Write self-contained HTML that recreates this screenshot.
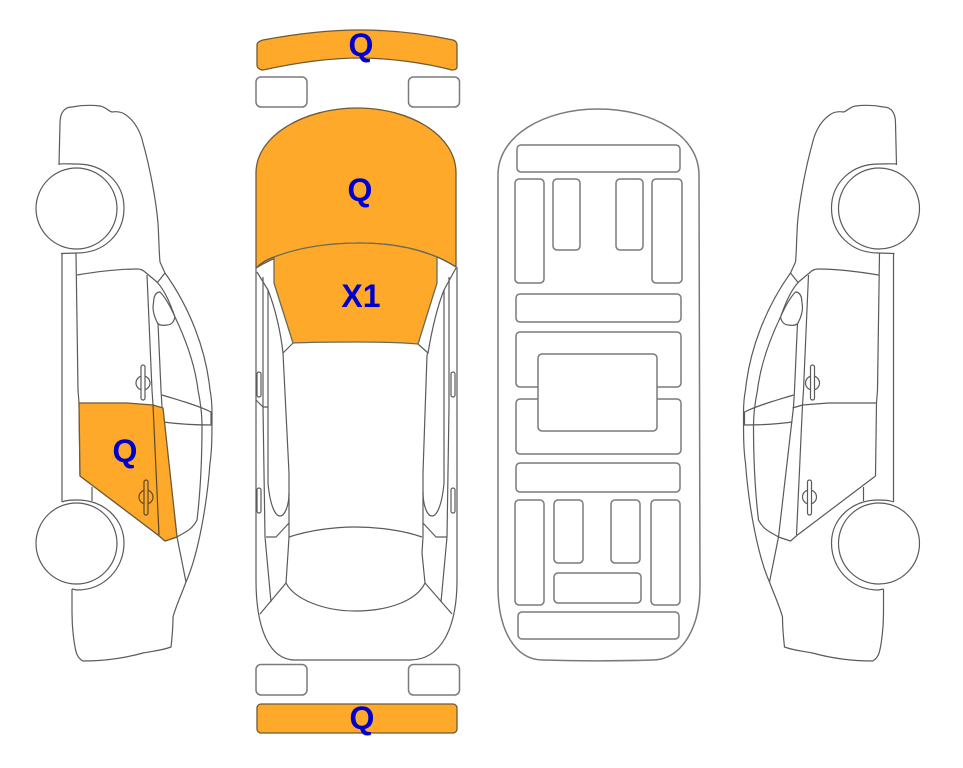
<!DOCTYPE html>
<html>
<head>
<meta charset="utf-8">
<style>
html,body{margin:0;padding:0;background:#fff;width:963px;height:768px;overflow:hidden}
svg{display:block}
text{font-family:"Liberation Sans",sans-serif;font-weight:bold;font-size:32px;fill:#0000cd;text-anchor:middle}
.l{fill:none;stroke:#5a5a5a;stroke-width:1.2;stroke-linejoin:round}
.g{fill:#fff;stroke:#7a7a7a;stroke-width:1.5}
.o{fill:#ffa92b;stroke:#6e5a35;stroke-width:1.3;stroke-linejoin:round}
</style>
</head>
<body>
<svg width="963" height="768" viewBox="0 0 963 768" xmlns="http://www.w3.org/2000/svg">
<defs>
<g id="side">
  <path class="l" d="M59 165 L60 123 C60 112 65 107 72 107 C82 105 92 105 100 106 C106 107 108 111 112 112 C118 111 122 112 126 115 C136 122 141 134 143 143 C150 168 156 200 158 223 C159 240 159 252 160 262 L165 273 C190 308 206 350 210 390 C212 400 212 408 212 413 C212 435 212 450 210 463 C207 505 198 555 186 582 C180 598 176 606 173 617 C173 628 172 638 171 647 C160 651 152 651 143 653 C125 658 105 661 83 661 C77 658 76 652 75 647 C72 630 72 620 72 613 L72 589"/>
  <path class="l" d="M59 164 C62 163.500 70 164 77 164 C104 164 124 183 124 208 C124 234 104 253 77 253 L61 253.500"/>
  <path class="l" d="M62 253 V502"/>
  <path class="l" d="M76 253 L78 390 L79 403 L80 476"/>
  <path class="l" d="M77 275 C95 272 120 269 137 269 C141 269 143 270 145 272 L157 282 C166 292 171 306 175 317 C186 340 195 365 198 390 C201 405 202 415 202 425 C202 460 200 495 197 520 C192 530 185 532 177 537 L165 541 L158 535 L80 476"/>
  <path class="l" d="M147 275 L152 390 L153 405 L159 535"/>
  <path class="l" d="M158 323 L161 390 L162 407 L177 537 L186 582"/>
  <path class="l" d="M165 273 L157 283"/>
  <path class="l" fill="#fff" style="fill:#fff" d="M154 298 C155 294 157 292 160 292 C166 298 171 308 175 317 C174 322 171 325 167 325 C162 326 158 325 157 322 C154 316 153 312 153 307 Z"/>
  <path class="l" d="M162 395 C178 400 197 405 211 412 L211 425 C195 425 178 424 163 422"/>
  <path class="l" d="M92 487 V501"/>
  <path class="l" d="M62 502 C66 500 72 500 77 500 C104 500 124 519 124 543 C124 569 104 590 77 590 L72 589"/>
  <circle class="l" style="fill:#fff" cx="76.500" cy="208.500" r="40.500"/>
  <circle class="l" style="fill:#fff" cx="76.500" cy="543.500" r="40.500"/>
  <circle class="l" cx="143" cy="383" r="7"/>
  <rect class="l" style="fill:#fff" x="141" y="365" width="4" height="35" rx="2"/>
</g>
</defs>

<!-- left side -->
<use href="#side"/>
<path class="o" d="M79 403 L127 403 L153 405 L163 408 L177 537 L165 541 L158 535 L80 476 Z"/>
<path class="l" style="stroke:#5a4a2a" d="M153 405 L159 535"/>
<circle cx="146" cy="497" r="7" style="fill:none;stroke:#5a4a2a;stroke-width:1.200"/>
<rect x="144" y="480" width="4" height="35" rx="2" style="fill:#ffa92b;stroke:#5a4a2a;stroke-width:1.200"/>

<!-- right side -->
<g transform="translate(955.500 0) scale(-1 1)">
  <use href="#side"/>
  <path class="l" d="M79 403 L127 403 L153 405 L163 408"/>
  <circle class="l" cx="146" cy="497" r="7"/>
  <rect class="l" style="fill:#fff" x="144" y="480" width="4" height="35" rx="2"/>
</g>

<!-- top view -->
<path class="l" d="M256 268 V580 C256 630 270 660 295 660 H410 C440 660 457 630 457 580 V267"/>
<path class="l" d="M257 272 L268 290 C276 310 281 335 283 353 L293 343 M283 353 L289 473 V537 L288 553 L286 583"/>
<path class="l" d="M456 268 L444 290 C436 310 431 335 428 353 L418 344 M428 353 L427 355 L423 473 V537 L422 553 L425 583"/>
<path class="l" d="M286 583 C295 600 325 611 355 611 C390 611 417 600 425 583"/>
<path class="l" d="M289 537 C310 530 335 527 355 527 C380 527 405 531 422 537"/>
<path class="l" d="M286 583 L260 614 M425 583 L452 614"/>
<path class="l" d="M263 277 V407 L265 537 L271 602"/>
<path class="l" d="M268 290 V483 C270 505 275 516 280 516 C285 516 289 505 289 493"/>
<path class="l" d="M256 400 L263 407 H268"/>
<path class="l" d="M266 537 H276 L289 523"/>
<path class="l" d="M449 277 V407 L447 537 L441 602"/>
<path class="l" d="M444 290 V483 C442 505 437 516 432 516 C427 516 423 505 423 492"/>
<path class="l" d="M423 523 L436 537 H447"/>
<rect class="l" style="fill:#fff" x="257" y="372" width="4" height="25" rx="2"/>
<rect class="l" style="fill:#fff" x="257" y="488" width="4" height="25" rx="2"/>
<rect class="l" style="fill:#fff" x="451" y="372" width="4" height="25" rx="2"/>
<rect class="l" style="fill:#fff" x="451" y="488" width="4" height="25" rx="2"/>

<path class="o" d="M256 268 V173 C256 135 305 108 357 108 C410 108 456 135 456 173 V267 C430 250 395 243 360 243 C320 243 285 250 256 268 Z"/>
<path class="o" style="stroke:#6b6b5a" d="M274 257 C300 247 330 243 360 243 C390 243 415 248 437 257 V283 L418 344 C395 342 375 342 357 342 C335 342 315 342 293 343 L274 283 Z"/>
<path class="l" d="M256 268 C262 262 268 259 274 257 M437 257 C444 260 450 263 456 267"/>

<path class="o" d="M257 45 C257 42 260 41 263 40 C295 34 330 30 360 30 C392 30 425 34 453 40 C456 41 457 43 457 45 V67 C457 69 455 70 452 70 C425 63 390 58 360 58 C330 58 295 63 263 70 C260 70 257 68 257 65 Z"/>
<rect class="g" x="256" y="77" width="51" height="30" rx="5"/>
<rect class="g" x="408.500" y="77" width="51" height="30" rx="5"/>
<rect class="g" x="256" y="664.500" width="51" height="30.500" rx="5"/>
<rect class="g" x="408.500" y="664.500" width="51" height="30.500" rx="5"/>
<rect class="o" x="257" y="704" width="200" height="29" rx="4"/>

<!-- underbody -->
<path class="g" d="M498 175 C498 135 545 109 598 109 C652 109 699 135 699 175 L700 587 C700 630 680 660 653 660 C620 661 575 661 543 660 C515 660 498 630 498 587 Z"/>
<g class="g">
  <rect x="517" y="145" width="163" height="27" rx="4"/>
  <rect x="515" y="179" width="29" height="104" rx="4"/>
  <rect x="553" y="179" width="27" height="71" rx="4"/>
  <rect x="616" y="179" width="27" height="71" rx="4"/>
  <rect x="652" y="179" width="30" height="104" rx="4"/>
  <rect x="516" y="294" width="165" height="28" rx="4"/>
  <rect x="516" y="332" width="165" height="55" rx="4"/>
  <rect x="516" y="399" width="165" height="55" rx="4"/>
  <rect x="538" y="354" width="119" height="77" rx="4"/>
  <rect x="516" y="463" width="164" height="29" rx="4"/>
  <rect x="515" y="500" width="29" height="105" rx="4"/>
  <rect x="554" y="500" width="29" height="63" rx="4"/>
  <rect x="611" y="500" width="29" height="63" rx="4"/>
  <rect x="651" y="500" width="29" height="105" rx="4"/>
  <rect x="554" y="573" width="87" height="30" rx="4"/>
  <rect x="518" y="612" width="161" height="27" rx="4"/>
</g>

<!-- labels -->
<text x="361" y="56">Q</text>
<text x="360" y="201">Q</text>
<text x="361" y="307">X1</text>
<text x="125" y="462">Q</text>
<text x="362" y="729">Q</text>
</svg>
</body>
</html>
